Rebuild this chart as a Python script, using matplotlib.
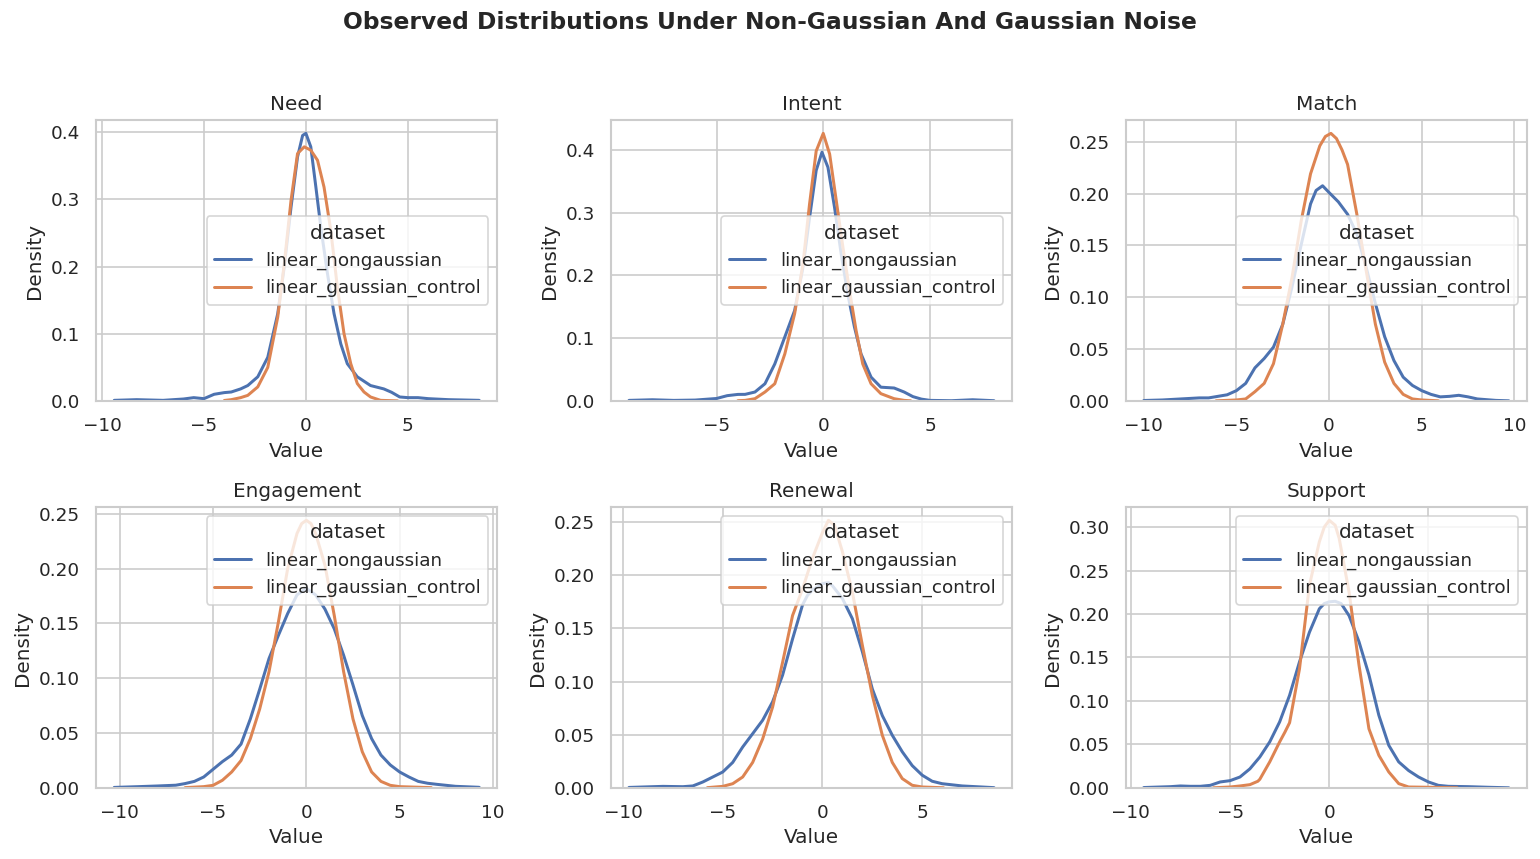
"""
Observed value distributions for six variables, non-Gaussian vs Gaussian noise.
Density curves are read off the original KDE figure and drawn as lines.
"""

import matplotlib
matplotlib.use("Agg")
import matplotlib.pyplot as plt
import seaborn as sns


PANELS = ["Need", "Intent", "Match", "Engagement", "Renewal", "Support"]
SERIES = ["linear_nongaussian", "linear_gaussian_control"]

# --- Need ---
NEED_X_NG = [-9.4, -8.3, -7, -6, -5.5, -5, -4.5, -4, -3.66, -3.2, -2.85, -2.36, -1.87,
             -1.38, -1.06, -0.73, -0.41, -0.16, 0, 0.24, 0.49, 0.73, 1.06, 1.38, 1.71,
             2.03, 2.52, 3.17, 3.82, 4.2, 4.6, 5, 5.5, 6, 7, 8.5]
NEED_Y_NG = [0.001, 0.002, 0.001, 0.003, 0.005, 0.0035, 0.01, 0.0125, 0.0134, 0.018, 0.023,
             0.036, 0.065, 0.13, 0.2, 0.288, 0.363, 0.395, 0.398, 0.378, 0.318, 0.259,
             0.189, 0.13, 0.085, 0.0555, 0.036, 0.023, 0.018, 0.013, 0.006, 0.005, 0.005,
             0.0035, 0.002, 0.001]
NEED_X_G = [-4, -3.66, -3.2, -2.85, -2.36, -1.87, -1.38, -1.06, -0.73, -0.41, -0.08, 0.24,
            0.57, 0.89, 1.22, 1.54, 1.87, 2.2, 2.52, 2.85, 3.17, 3.66, 4.5]
NEED_Y_G = [0.0008, 0.002, 0.005, 0.0084, 0.021, 0.05, 0.125, 0.204, 0.298, 0.368, 0.378,
            0.373, 0.358, 0.318, 0.254, 0.17, 0.1, 0.0555, 0.026, 0.0134, 0.006, 0.001,
            0.0002]

# --- Intent ---
INTENT_X_NG = [-9.1, -8, -7, -6, -5, -4.5, -4, -3.66, -3.2, -2.73, -2.27, -1.8, -1.34,
               -0.95, -0.64, -0.33, -0.06, 0.22, 0.53, 0.84, 1.15, 1.46, 1.77, 2.24, 2.7,
               3.32, 3.79, 4.2, 4.6, 5, 6, 7, 8]
INTENT_Y_NG = [0.001, 0.002, 0.001, 0.0015, 0.004, 0.0085, 0.0105, 0.0106, 0.0143, 0.0275,
               0.059, 0.102, 0.144, 0.213, 0.292, 0.367, 0.396, 0.372, 0.308, 0.234, 0.17,
               0.118, 0.075, 0.038, 0.022, 0.0207, 0.0143, 0.007, 0.003, 0.001, 0.0005,
               0.002, 0.0005]
INTENT_X_G = [-4, -3.66, -3.2, -2.73, -2.27, -1.8, -1.34, -0.95, -0.64, -0.33, 0, 0.3, 0.61,
              0.92, 1.23, 1.54, 1.85, 2.24, 2.7, 3.32, 3.79, 4.1]
INTENT_Y_G = [0.0005, 0.001, 0.0037, 0.0143, 0.0275, 0.075, 0.139, 0.218, 0.314, 0.398,
              0.426, 0.393, 0.319, 0.245, 0.176, 0.112, 0.059, 0.0275, 0.0117, 0.0037, 0.001,
              0.0003]

# --- Match ---
MATCH_X_NG = [-10, -9, -8, -7, -6.5, -6, -5.5, -5, -4.5, -4, -3.5, -3, -2.5, -2, -1.5, -1,
              -0.7, -0.35, 0, 0.5, 1, 1.5, 2, 2.5, 3, 3.5, 4, 4.5, 5, 5.5, 6, 6.5, 7, 7.5,
              8, 9, 9.7]
MATCH_Y_NG = [0.0005, 0.001, 0.002, 0.003, 0.003, 0.0045, 0.006, 0.01, 0.017, 0.032, 0.041,
              0.052, 0.074, 0.11, 0.151, 0.19, 0.203, 0.2075, 0.201, 0.192, 0.18, 0.161,
              0.129, 0.094, 0.062, 0.039, 0.023, 0.015, 0.01, 0.0064, 0.004, 0.0045, 0.0055,
              0.004, 0.002, 0.0006, 0.0002]
MATCH_X_G = [-6.1, -5, -4.5, -4, -3.5, -3, -2.5, -2, -1.5, -1, -0.5, -0.2, 0.1, 0.4, 0.7,
             1, 1.5, 2, 2.5, 3, 3.5, 4, 4.5, 5, 5.9]
MATCH_Y_G = [0.0002, 0.001, 0.002, 0.009, 0.017, 0.036, 0.074, 0.119, 0.174, 0.219, 0.246,
             0.255, 0.258, 0.253, 0.242, 0.228, 0.18, 0.126, 0.074, 0.0375, 0.017, 0.0064,
             0.002, 0.001, 0.0002]

# --- Engagement ---
ENGAGE_X_NG = [-10.3, -9, -8, -7, -6.5, -6, -5.5, -5, -4.5, -4, -3.5, -3, -2.5, -2, -1.5,
               -1, -0.5, 0, 0.5, 1, 1.5, 2, 2.5, 3, 3.5, 4, 4.5, 5, 5.5, 6, 6.5, 7, 7.5, 8,
               9.27]
ENGAGE_Y_NG = [0.0005, 0.0012, 0.0018, 0.0025, 0.004, 0.006, 0.01, 0.017, 0.024, 0.03,
               0.04, 0.063, 0.09, 0.118, 0.139, 0.159, 0.176, 0.182, 0.176, 0.163, 0.145,
               0.121, 0.094, 0.066, 0.045, 0.03, 0.021, 0.0146, 0.01, 0.006, 0.0043, 0.0033,
               0.0024, 0.0015, 0.0006]
ENGAGE_X_G = [-6.5, -5.5, -5, -4.5, -4, -3.5, -3, -2.5, -2, -1.5, -1, -0.5, -0.25, 0, 0.25,
              0.5, 1, 1.5, 2, 2.5, 3, 3.5, 4, 4.5, 5, 6.7]
ENGAGE_Y_G = [0.0003, 0.0012, 0.0024, 0.007, 0.0146, 0.025, 0.045, 0.072, 0.106, 0.151, 0.2,
              0.232, 0.241, 0.244, 0.241, 0.232, 0.203, 0.157, 0.106, 0.063, 0.033, 0.0146,
              0.006, 0.0024, 0.0012, 0.0003]

# --- Renewal ---
RENEW_X_NG = [-9.7, -8, -7, -6.5, -6, -5.5, -5, -4.5, -4, -3.5, -3, -2.5, -2, -1.5, -1,
              -0.75, -0.5, 0, 0.3, 0.5, 1, 1.5, 2, 2.5, 3, 3.5, 4, 4.5, 5, 5.5, 6, 7, 8.6]
RENEW_Y_NG = [0.0005, 0.0015, 0.0012, 0.0019, 0.0056, 0.0103, 0.015, 0.024, 0.0385, 0.051,
              0.0636, 0.081, 0.106, 0.14, 0.172, 0.181, 0.186, 0.192, 0.193, 0.19, 0.178,
              0.159, 0.128, 0.093, 0.068, 0.0495, 0.034, 0.021, 0.012, 0.0063, 0.004,
              0.0019, 0.0003]
RENEW_X_G = [-5.77, -5, -4.5, -4, -3.5, -3, -2.5, -2, -1.5, -1, -0.5, 0, 0.3, 0.6, 1, 1.5,
             2, 2.5, 3, 3.5, 4, 4.5, 5, 6.07]
RENEW_Y_G = [0.0003, 0.0015, 0.004, 0.0103, 0.024, 0.046, 0.076, 0.118, 0.162, 0.187, 0.216,
             0.24, 0.2515, 0.247, 0.222, 0.184, 0.134, 0.087, 0.0495, 0.024, 0.0088, 0.0025,
             0.0009, 0.0002]

# --- Support ---
SUPPORT_X_NG = [-9.35, -8, -7.5, -7, -6.5, -6, -5.5, -5, -4.5, -4, -3.5, -3, -2.5, -2, -1.5,
                -1, -0.5, -0.25, 0, 0.3, 0.6, 1, 1.5, 2, 2.5, 3, 3.5, 4, 4.5, 5, 5.5, 6, 7,
                8, 9.05]
SUPPORT_Y_NG = [0.0005, 0.0015, 0.0023, 0.0019, 0.0019, 0.003, 0.0069, 0.0084, 0.0126, 0.022,
                0.0356, 0.053, 0.076, 0.1065, 0.145, 0.179, 0.206, 0.212, 0.214, 0.2146,
                0.212, 0.198, 0.168, 0.13, 0.0835, 0.049, 0.03, 0.02, 0.0126, 0.0069, 0.003,
                0.0019, 0.0015, 0.0008, 0.0002]
SUPPORT_X_G = [-5.84, -5, -4.5, -4, -3.6, -3.5, -3, -2.5, -2.24, -2, -1.5, -1, -0.5, -0.25,
               0, 0.3, 0.5, 1, 1.5, 2, 2.5, 3, 3.5, 4, 5, 6.45]
SUPPORT_Y_G = [0.0002, 0.0011, 0.0023, 0.0038, 0.0077, 0.01, 0.03, 0.053, 0.064, 0.075, 0.137,
               0.233, 0.283, 0.3, 0.3077, 0.302, 0.287, 0.225, 0.141, 0.068, 0.0375, 0.0184,
               0.005, 0.0011, 0.0008, 0.0002]

CURVES = [
    (NEED_X_NG, NEED_Y_NG, NEED_X_G, NEED_Y_G),
    (INTENT_X_NG, INTENT_Y_NG, INTENT_X_G, INTENT_Y_G),
    (MATCH_X_NG, MATCH_Y_NG, MATCH_X_G, MATCH_Y_G),
    (ENGAGE_X_NG, ENGAGE_Y_NG, ENGAGE_X_G, ENGAGE_Y_G),
    (RENEW_X_NG, RENEW_Y_NG, RENEW_X_G, RENEW_Y_G),
    (SUPPORT_X_NG, SUPPORT_Y_NG, SUPPORT_X_G, SUPPORT_Y_G),
]


def main():
    sns.set_theme(style="whitegrid")
    colors = sns.color_palette("deep")

    fig, axes = plt.subplots(2, 3, figsize=(1540 / 120, 859 / 120), dpi=120)
    for i, (ax, name, (xn, yn, xg, yg)) in enumerate(zip(axes.flat, PANELS, CURVES)):
        ax.plot(xn, yn, color=colors[0], linewidth=1.8, label=SERIES[0])
        ax.plot(xg, yg, color=colors[1], linewidth=1.8, label=SERIES[1])
        ax.set_title(name)
        ax.set_xlabel("Value")
        ax.set_ylabel("Density")
        ax.set_ylim(bottom=0)
        loc = "center right" if i < 3 else "upper right"
        ax.legend(title="dataset", loc=loc)

    fig.suptitle("Observed Distributions Under Non-Gaussian And Gaussian Noise",
                 fontsize=14, fontweight="bold", y=0.974, va="center")
    fig.subplots_adjust(left=0.0623, right=0.9916, top=0.8603, bottom=0.0827,
                        wspace=0.282, hspace=0.377)
    fig.savefig("out.png", dpi=120)
    plt.close(fig)


if __name__ == "__main__":
    main()
